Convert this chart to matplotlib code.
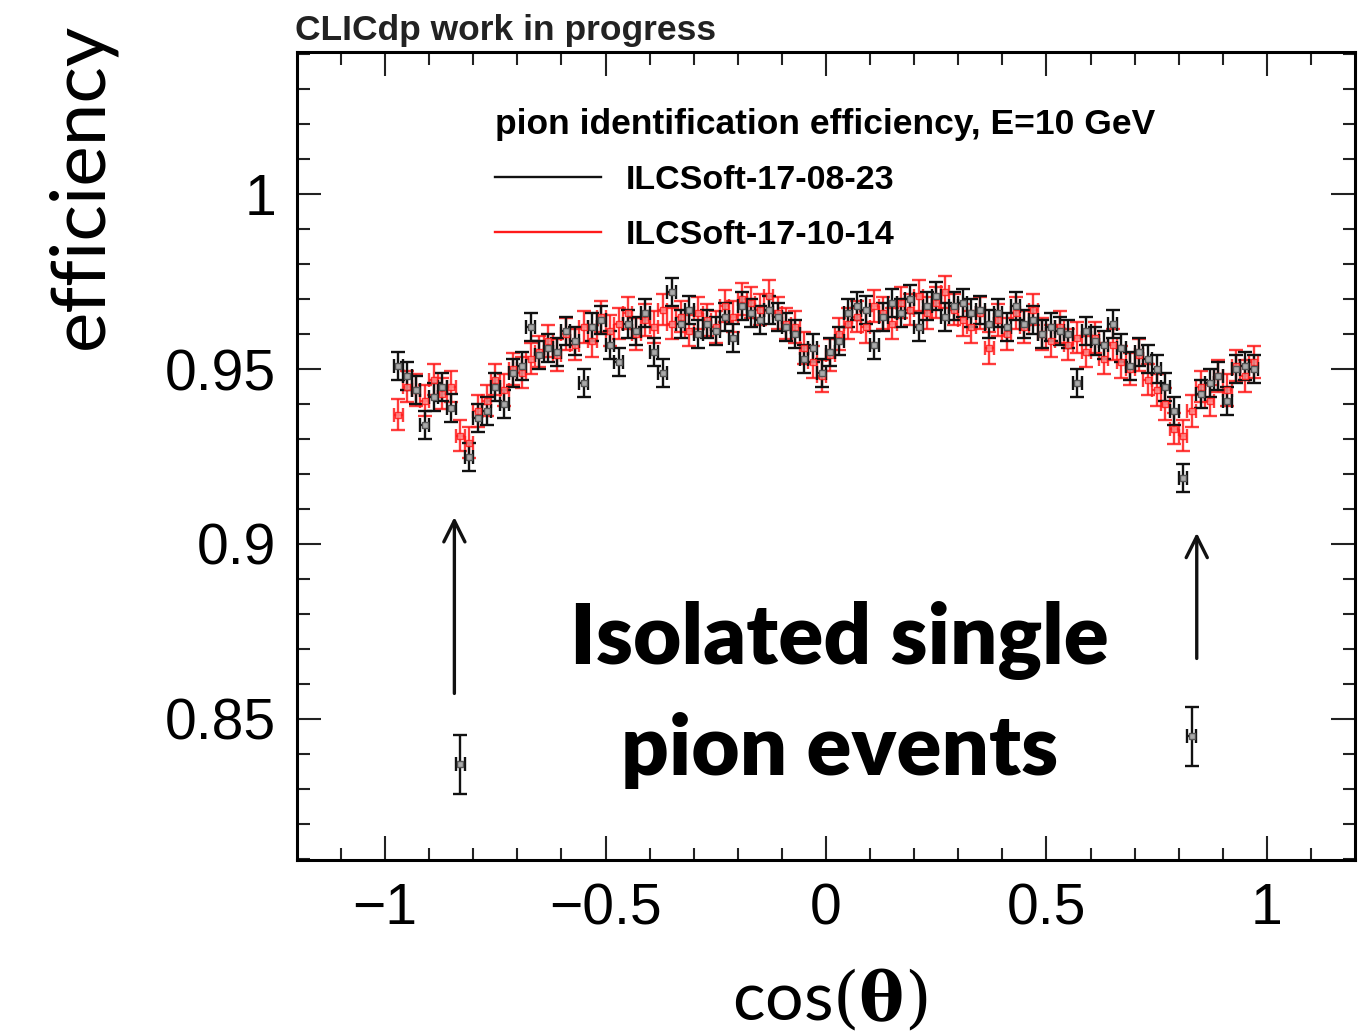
import numpy as np
import matplotlib.pyplot as plt
from matplotlib.lines import Line2D

#_______________________________________________________________________________________________________________________

# cos(theta) bin centres, 98 bins of width 0.02 between -0.98 and 0.98
cosTheta = np.round(np.linspace(-0.97, 0.97, 98), 2)

# ILCSoft-17-08-23 (black)
eff_old = [0.951, 0.948, 0.944, 0.934, 0.942, 0.945, 0.939, 0.837, 0.925, 0.936,
           0.938, 0.945, 0.940, 0.949, 0.951, 0.962, 0.954, 0.956, 0.955, 0.961,
           0.958, 0.946, 0.962, 0.964, 0.957, 0.952, 0.963, 0.961, 0.966, 0.955,
           0.949, 0.972, 0.963, 0.967, 0.960, 0.963, 0.961, 0.965, 0.959, 0.968,
           0.966, 0.964, 0.967, 0.965, 0.962, 0.960, 0.953, 0.956, 0.949, 0.955,
           0.958, 0.966, 0.968, 0.967, 0.957, 0.965, 0.969, 0.966, 0.970, 0.962,
           0.968, 0.971, 0.965, 0.968, 0.969, 0.966, 0.967, 0.963, 0.966, 0.962,
           0.968, 0.963, 0.964, 0.960, 0.962, 0.961, 0.960, 0.946, 0.961, 0.958,
           0.957, 0.963, 0.956, 0.951, 0.955, 0.953, 0.950, 0.945, 0.938, 0.919,
           0.845, 0.943, 0.946, 0.948, 0.941, 0.950, 0.951, 0.950]
err_old = [0.004] * 98
err_old[7] = 0.0085
err_old[90] = 0.0085

# ILCSoft-17-10-14 (red)
eff_new = [0.937, 0.945, 0.944, 0.941, 0.947, 0.943, 0.945, 0.931, 0.929, 0.938,
           0.941, 0.947, 0.944, 0.950, 0.949, 0.953, 0.955, 0.958, 0.954, 0.960,
           0.957, 0.962, 0.958, 0.965, 0.961, 0.963, 0.966, 0.960, 0.964, 0.962,
           0.967, 0.963, 0.965, 0.961, 0.966, 0.964, 0.962, 0.968, 0.965, 0.970,
           0.969, 0.967, 0.971, 0.966, 0.963, 0.962, 0.956, 0.952, 0.948, 0.954,
           0.960, 0.963, 0.965, 0.962, 0.968, 0.966, 0.963, 0.969, 0.967, 0.971,
           0.966, 0.969, 0.972, 0.967, 0.964, 0.962, 0.966, 0.956, 0.964, 0.960,
           0.966, 0.962, 0.967, 0.960, 0.958, 0.962, 0.957, 0.959, 0.955, 0.959,
           0.953, 0.957, 0.952, 0.950, 0.954, 0.947, 0.944, 0.940, 0.933, 0.931,
           0.938, 0.945, 0.941, 0.948, 0.944, 0.951, 0.948, 0.952]
err_new = [0.0045] * 98

binHalfWidth = 0.01

#_______________________________________________________________________________________________________________________

plt.rcParams['font.family'] = ['Liberation Sans', 'DejaVu Sans']
plt.rcParams['mathtext.fontset'] = 'custom'
plt.rcParams['mathtext.bf'] = 'DejaVu Serif:bold'
plt.rcParams['mathtext.rm'] = 'DejaVu Serif'

fig = plt.figure(figsize=(13.58, 10.34), dpi=100)
ax = fig.add_axes([0.2187, 0.1683, 0.7791, 0.7814])

red = '#ff1a1a'
blk = '#111111'

ax.errorbar(cosTheta, eff_new, yerr=err_new, xerr=binHalfWidth, fmt='s', ms=4,
            mfc='#ff9090', mec=red, ecolor=red, elinewidth=1.7, capsize=5, capthick=1.7, alpha=0.85)
ax.errorbar(cosTheta, eff_old, yerr=err_old, xerr=binHalfWidth, fmt='s', ms=4,
            mfc='#aaaaaa', mec='#555555', ecolor=blk, elinewidth=1.7, capsize=5, capthick=1.7)

ax.set_xlim(-1.2, 1.2)
ax.set_ylim(0.8097, 1.0406)
ax.set_xticks([-1, -0.5, 0, 0.5, 1])
ax.set_xticklabels(['\u22121', '\u22120.5', '0', '0.5', '1'])
ax.set_xticks(np.round(np.arange(-1.1, 1.15, 0.1), 2), minor=True)
ax.set_yticks([0.85, 0.9, 0.95, 1])
ax.set_yticklabels(['0.85', '0.9', '0.95', '1'])
ax.set_yticks(np.round(np.arange(0.81, 1.041, 0.01), 2), minor=True)
ax.tick_params(which='both', direction='in', top=True, right=True, width=1.5, labelsize=41, color='#222222')
ax.tick_params(which='major', length=17)
ax.tick_params(which='minor', length=9)
ax.tick_params(axis='x', pad=16)
ax.tick_params(axis='y', pad=15)
for sp in ax.spines.values():
    sp.set_linewidth(2.2)

# legend
handles = [Line2D([], [], color=blk, lw=1.7),
           Line2D([], [], color=red, lw=1.7)]
leg = ax.legend(handles, ['ILCSoft-17-08-23', 'ILCSoft-17-10-14'], loc='upper left',
                bbox_to_anchor=(0.342, 0.925), bbox_transform=fig.transFigure, frameon=False,
                title='pion identification efficiency, E=10 GeV', handlelength=3.1, handletextpad=0.75,
                labelspacing=0.7, prop={'size': 24.5, 'weight': 'bold'},
                title_fontproperties={'size': 25.5, 'weight': 'bold'})
leg._legend_box.align = 'left'

# annotations
ax.annotate('', xy=(-0.843, 0.9085), xytext=(-0.843, 0.8565),
            arrowprops=dict(arrowstyle='->', lw=2.4, color='#111111', mutation_scale=38))
ax.annotate('', xy=(0.841, 0.904), xytext=(0.841, 0.8665),
            arrowprops=dict(arrowstyle='->', lw=2.4, color='#111111', mutation_scale=38))

fig.text(0.618, 0.328, 'Isolated single\npion events', ha='center', va='center',
         fontsize=60, fontweight='heavy', family=['Lato', 'DejaVu Sans'], linespacing=1.5)

fig.text(0.217, 0.961, 'CLICdp work in progress', ha='left', va='baseline',
         fontsize=25.5, fontweight='bold', color='#222222')

fig.text(0.06, 0.82, 'efficiency', rotation=90, ha='center', va='center',
         fontsize=55, fontweight='normal', family=['Lato', 'DejaVu Sans'])
fig.text(0.611, 0.033, 'cos' + r'$(\mathbf{\theta})$', ha='center', va='center',
         fontsize=49, fontweight='normal', family=['Lato', 'DejaVu Sans'])

plt.savefig('out.png', dpi=100)
